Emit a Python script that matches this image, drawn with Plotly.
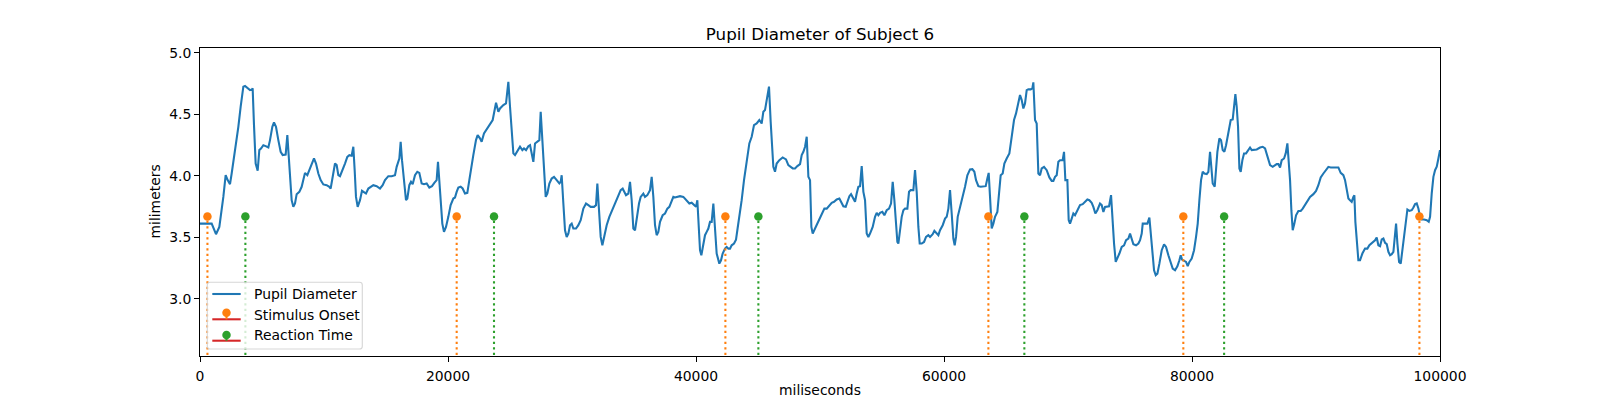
import plotly.graph_objects as go

# ---------------- data ----------------
time_ms = [
    0, 941, 1291, 1559, 1882, 2070, 2231, 2420, 2554, 2823,
    2957, 3092, 3280, 3495, 3629, 3817, 4032, 4194, 4247, 4355,
    4489, 4651, 4785, 4919, 5108, 5296, 5511, 5645, 5833, 5968,
    6129, 6317, 6505, 6667, 6909, 7043, 7150, 7258, 7392, 7527,
    7661, 7796, 8011, 8199, 8333, 8468, 8656, 8817, 8925, 9086,
    9193, 9355, 9543, 9731, 9946, 10215, 10430, 10537, 10698, 10887,
    11021, 11156, 11290, 11505, 11693, 11881, 12043, 12231, 12365, 12473,
    12580, 12715, 12903, 13064, 13225, 13387, 13575, 13763, 13978, 14247,
    14516, 14731, 14919, 15188, 15456, 15725, 15860, 16075, 16182, 16290,
    16451, 16612, 16720, 16881, 17015, 17150, 17338, 17526, 17687, 17876,
    18064, 18279, 18494, 18709, 18897, 19085, 19193, 19300, 19408, 19542,
    19677, 19838, 20026, 20214, 20429, 20564, 20698, 20832, 21020, 21182,
    21370, 21558, 21719, 21854, 22042, 22257, 22391, 22580, 22714, 22902,
    23063, 23251,
    23389, 23604, 23873, 24061, 24195, 24330, 24464, 24679, 24867, 25002,
    25136, 25271, 25405, 25593, 25808, 25996, 26131, 26292, 26480, 26615,
    26749, 26883, 27018, 27206, 27367, 27475, 27609, 27744, 27878, 28012,
    28174, 28362, 28550, 28765, 28980, 29088, 29168, 29303, 29437, 29571,
    29706, 29840, 29975, 30109, 30324, 30512, 30700, 30915, 31130, 31319,
    31507, 31776, 31937, 32044, 32179, 32313, 32448, 32609, 32797, 33012,
    33254, 33469, 33738, 33926, 34087, 34222, 34356, 34544, 34679, 34813,
    34947, 35082, 35216, 35404, 35539, 35754, 35888, 36076, 36291, 36426,
    36560, 36695, 36829, 36963, 37098, 37313, 37501, 37689, 37850, 38039,
    38173, 38307, 38496, 38711, 38979, 39248, 39463, 39651, 39840, 40001,
    40108, 40216, 40323, 40431, 40592, 40727, 40861, 40995, 41130, 41264,
    41399, 41533, 41667, 41882, 42017, 42151, 42339, 42474, 42608, 42743,
    42877, 43065, 43226, 43334, 43495, 43683, 43872, 44087, 44302, 44490,
    44678, 44893, 45108, 45296, 45431, 45565, 45699, 45887, 46022, 46129,
    46237, 46371, 46506, 46721, 46990, 47258, 47447,
    47799, 47987, 48175, 48390, 48525, 48659, 48794, 48928, 49062, 49197,
    49304, 49412, 49600, 49788, 50003, 50218, 50353, 50541, 50756, 50944,
    51132, 51347, 51562, 51697, 51885, 52073, 52207, 52369, 52503, 52691,
    52826, 52960, 53094, 53229, 53363, 53498, 53632, 53766, 53901, 54035,
    54250, 54438, 54573, 54707, 54842, 55030, 55191, 55379, 55567, 55729,
    55863, 55997, 56132, 56239, 56320, 56454, 56589, 56723, 56858, 57046,
    57180, 57315, 57530, 57664, 57798, 57933, 58040, 58202, 58390, 58551,
    58739, 58874, 59089, 59223, 59411, 59546, 59680, 59895, 60083, 60218,
    60352, 60486, 60621, 60755, 60863, 60970, 61105, 61293, 61508, 61696,
    61884, 62099, 62287, 62449, 62583, 62771, 62959, 63174, 63363, 63497,
    63604, 63712, 63846, 63981, 64115, 64303, 64465, 64572, 64733, 64868,
    65056, 65271, 65459, 65647, 65809, 65997, 66131, 66266, 66400, 66534,
    66669, 66803, 66991, 67126, 67206, 67341, 67475, 67610, 67744, 67878,
    68067, 68282, 68497, 68685, 68819, 68954, 69088, 69222, 69357, 69572,
    69679, 69787, 69948, 70056, 70163, 70298, 70432, 70566, 70755, 70970,
    71185, 71373, 71561, 71722, 71910, 72045, 72206, 72367, 72582,
    72719, 72854, 72988, 73123, 73311, 73472, 73580, 73714, 73848, 73983,
    74144, 74332, 74520, 74682, 74870, 75004, 75139, 75273, 75488, 75676,
    75811, 75945, 76026, 76214, 76402, 76563, 76671, 76805, 76940, 77074,
    77208, 77370, 77558, 77746, 77907, 78095, 78284, 78445, 78633, 78821,
    78982, 79090, 79197, 79305, 79520, 79654, 79789, 79977, 80165, 80326,
    80461, 80595, 80730, 80864, 80998, 81187, 81321, 81455, 81590, 81670,
    81832, 81939, 82047, 82208, 82342, 82477, 82611, 82746, 82880, 83014,
    83122, 83283, 83391, 83498, 83606, 83713, 83821, 83928, 84063, 84197,
    84358, 84547, 84681, 84815, 85004, 85219, 85487, 85702, 85891, 86025,
    86159, 86294, 86509, 86697, 86831, 86966, 87100, 87235, 87423, 87557,
    87692, 87799, 87907, 88014, 88122, 88256, 88390, 88579, 88767, 88928,
    89116, 89304, 89519, 89788, 90003, 90191, 90380, 90595, 90810, 90998,
    91186, 91401, 91616, 91804, 91992, 92207, 92342, 92476, 92611, 92745,
    92879, 93014, 93095, 93175, 93283, 93417, 93552, 93740, 93955, 94143,
    94304, 94492, 94627, 94761, 94895, 95030,
    95167, 95301, 95436, 95570, 95705, 95839, 95973, 96108, 96242, 96377,
    96457, 96565, 96699, 96833, 96968, 97102, 97263, 97371, 97532, 97720,
    97855, 97989, 98124, 98258, 98393, 98527, 98715, 98930, 99091, 99199,
    99333, 99468, 99602, 99737, 99871, 100000,
]

pupil_mm = [
    3.612, 3.612, 3.526, 3.585, 3.829, 4.005, 3.965, 3.932, 4.019, 4.209,
    4.290, 4.398, 4.561, 4.724, 4.729, 4.710, 4.696, 4.702, 4.710, 4.412,
    4.100, 4.041, 4.209, 4.222, 4.249, 4.241, 4.230, 4.290, 4.398, 4.434,
    4.398, 4.290, 4.195, 4.168, 4.173, 4.331, 4.182, 4.019, 3.802, 3.748,
    3.775, 3.851, 3.870, 3.911, 3.965, 4.024, 4.005, 4.046, 4.079, 4.127,
    4.141, 4.100, 4.019, 3.965, 3.930, 3.924, 3.911, 3.897, 3.992, 4.100,
    4.087, 4.005, 3.997, 4.046, 4.100, 4.154, 4.168, 4.163, 4.236, 4.046,
    3.829, 3.748, 3.802, 3.878, 3.870, 3.856, 3.897, 3.911, 3.924, 3.916,
    3.897, 3.924, 3.965, 3.997, 3.997, 4.005, 4.073, 4.141, 4.276, 4.127,
    3.965, 3.802, 3.816, 3.924, 3.951, 3.932, 4.005, 4.033, 4.024, 3.938,
    3.932, 3.938, 3.905, 3.916, 3.943, 3.965, 4.114, 3.965, 3.775, 3.612,
    3.545, 3.585, 3.667, 3.762, 3.816, 3.824, 3.870, 3.905, 3.911, 3.897,
    3.856, 3.862, 3.965, 4.060, 4.168, 4.290, 4.331, 4.304, 4.276, 4.344,
    4.371, 4.404,
    4.425, 4.453, 4.594, 4.520, 4.547, 4.561, 4.575, 4.588, 4.764, 4.561,
    4.371, 4.182, 4.168, 4.195, 4.236, 4.209, 4.222, 4.209, 4.241, 4.249,
    4.182, 4.114, 4.263, 4.276, 4.290, 4.520, 4.290, 4.019, 3.829, 3.856,
    3.938, 3.978, 3.992, 3.965, 3.938, 3.951, 4.005, 3.775, 3.558, 3.504,
    3.531, 3.599, 3.612, 3.572, 3.572, 3.599, 3.640, 3.734, 3.775, 3.762,
    3.748, 3.748, 3.762, 3.938, 3.694, 3.504, 3.436, 3.518, 3.599, 3.667,
    3.721, 3.775, 3.843, 3.884, 3.897, 3.870, 3.843, 3.856, 3.951, 3.802,
    3.572, 3.558, 3.667, 3.775, 3.829, 3.856, 3.829, 3.843, 3.884, 3.992,
    3.829, 3.599, 3.518, 3.545, 3.626, 3.680, 3.694, 3.734, 3.748, 3.789,
    3.829, 3.824, 3.829, 3.835, 3.829, 3.802, 3.775, 3.781, 3.762, 3.748,
    3.802, 3.585, 3.396, 3.355, 3.450, 3.518, 3.545, 3.572, 3.626, 3.626,
    3.775, 3.558, 3.369, 3.287, 3.314, 3.369, 3.409, 3.423, 3.409, 3.409,
    3.436, 3.450, 3.482, 3.558, 3.667, 3.802, 3.965, 4.127, 4.263, 4.317,
    4.412, 4.425, 4.453, 4.425, 4.520, 4.534, 4.629, 4.724, 4.439, 4.290,
    4.073, 4.033, 4.100, 4.127, 4.149, 4.133, 4.087,
    4.060, 4.060, 4.079, 4.095, 4.168, 4.195, 4.236, 4.317, 3.992, 3.965,
    3.585, 3.531, 3.572, 3.612, 3.653, 3.694, 3.734, 3.734, 3.762, 3.781,
    3.789, 3.808, 3.816, 3.789, 3.753, 3.748, 3.781, 3.835, 3.851, 3.816,
    3.789, 3.856, 3.911, 3.916, 4.079, 3.870, 3.802, 3.531, 3.504, 3.531,
    3.585, 3.667, 3.699, 3.680, 3.699, 3.707, 3.680, 3.721, 3.734, 3.775,
    3.951, 3.802, 3.585, 3.463, 3.450, 3.558, 3.667, 3.721, 3.734, 3.734,
    3.870, 3.884, 3.884, 4.046, 3.870, 3.585, 3.450, 3.450, 3.463, 3.504,
    3.518, 3.504, 3.526, 3.553, 3.531, 3.518, 3.558, 3.599, 3.653, 3.667,
    3.734, 3.884, 3.694, 3.491, 3.436, 3.504, 3.667, 3.748, 3.816, 3.911,
    4.005, 4.052, 4.054, 4.033, 3.965, 3.916, 3.911, 3.916, 3.916, 3.978,
    4.024, 3.829, 3.572, 3.612, 3.667, 3.707, 3.911, 4.005, 4.019, 4.100,
    4.141, 4.182, 4.317, 4.453, 4.507, 4.588, 4.656, 4.615, 4.547, 4.588,
    4.696, 4.702, 4.702, 4.710, 4.759, 4.453, 4.425, 4.019, 4.005, 4.060,
    4.073, 4.046, 3.987, 3.959, 3.959, 3.992, 4.005, 4.114, 4.127, 4.127,
    4.195, 3.965, 3.965, 3.640, 3.612, 3.653, 3.694, 3.680, 3.721, 3.762,
    3.770, 3.789, 3.808, 3.802, 3.781, 3.748, 3.694, 3.721, 3.775,
    3.762, 3.707, 3.748, 3.748, 3.753, 3.843, 3.640, 3.450, 3.301, 3.328,
    3.369, 3.423, 3.436, 3.477, 3.491, 3.531, 3.482, 3.444, 3.436, 3.450,
    3.477, 3.531, 3.612, 3.612, 3.612, 3.661, 3.531, 3.342, 3.233, 3.193,
    3.206, 3.287, 3.396, 3.444, 3.423, 3.355, 3.293, 3.247, 3.233, 3.266,
    3.314, 3.355, 3.320, 3.314, 3.301, 3.266, 3.301, 3.328, 3.396, 3.504,
    3.612, 3.802, 3.965, 4.033, 4.019, 4.014, 4.033, 4.195, 4.019, 3.938,
    3.911, 4.046, 4.195, 4.304, 4.290, 4.209, 4.195, 4.249, 4.317, 4.412,
    4.453, 4.458, 4.561, 4.664, 4.561, 4.398, 4.060, 4.033, 4.127, 4.182,
    4.182, 4.209, 4.230, 4.209, 4.209, 4.214, 4.230, 4.236, 4.222, 4.182,
    4.127, 4.087, 4.073, 4.087, 4.095, 4.095, 4.068, 4.127, 4.141, 4.182,
    4.263, 4.114, 3.965, 3.721, 3.558, 3.612, 3.680, 3.715, 3.715, 3.734,
    3.762, 3.789, 3.829, 3.851, 3.878, 3.924, 3.987, 4.019, 4.046, 4.073,
    4.068, 4.068, 4.073, 4.068, 4.024, 4.005, 3.965, 3.897, 3.816, 3.802,
    3.789, 3.829, 3.843, 3.626, 3.477, 3.314, 3.314, 3.369, 3.409, 3.409,
    3.436, 3.450, 3.463, 3.477, 3.499, 3.436,
    3.429, 3.483, 3.491, 3.456, 3.445, 3.383, 3.355, 3.364, 3.383, 3.532,
    3.613, 3.450, 3.301, 3.288, 3.396, 3.545, 3.667, 3.727, 3.716, 3.721,
    3.743, 3.770, 3.776, 3.735, 3.667, 3.645, 3.645, 3.640, 3.627, 3.667,
    3.857, 3.992, 4.046, 4.074, 4.141, 4.209,
]

stimulus_onset_ms = [600, 20700, 42370, 63580, 79300, 98340]
reaction_time_ms = [3660, 23710, 45030, 66480, 82590]
event_level_mm = 3.67
stem_baseline_mm = 0.0

x_ticks = [0, 20000, 40000, 60000, 80000, 100000]
x_tick_labels = ["0", "20000", "40000", "60000", "80000", "100000"]
y_ticks = [3.0, 3.5, 4.0, 4.5, 5.0]
y_tick_labels = ["3.0", "3.5", "4.0", "4.5", "5.0"]

title_text = "Pupil Diameter of Subject 6"
x_label = "miliseconds"
y_label = "milimeters"
legend_labels = ["Pupil Diameter", "Stimulus Onset", "Reaction Time"]

# ---------------- style ----------------
C0, C1, C2, C3 = "#1f77b4", "#ff7f0e", "#2ca02c", "#d62728"
FONT = "DejaVu Sans"
W, H = 1600, 400
L, R, T, B = 200, 1440, 48, 356  # plot-area edges in pixels
LW = 2.08
SPINE = 1.11
FS = 13.9


def px(x):
    return (x - L) / (R - L)


def py(y):
    return (B - y) / (B - T)


def stem_xy(times):
    xs, ys = [], []
    for t in times:
        xs += [t, t, None]
        ys += [stem_baseline_mm, event_level_mm, None]
    return xs, ys


fig = go.Figure()
fig.add_trace(go.Scatter(x=time_ms, y=pupil_mm, mode="lines",
                         line=dict(color=C0, width=LW), name=legend_labels[0],
                         showlegend=False))

for times, col, name in [(stimulus_onset_ms, C1, legend_labels[1]),
                         (reaction_time_ms, C2, legend_labels[2])]:
    sx, sy = stem_xy(times)
    fig.add_trace(go.Scatter(x=sx, y=sy, mode="lines",
                             line=dict(color=col, width=LW, dash="2.1px,3.4px"),
                             showlegend=False, hoverinfo="skip"))
    fig.add_trace(go.Scatter(x=times, y=[event_level_mm] * len(times), mode="markers",
                             marker=dict(color=col, size=8.5, line=dict(width=0)),
                             name=name, showlegend=False))

# ---------------- manual matplotlib-like legend ----------------
shapes = []
bx0, bx1, by0, by1, rr = 207.3, 362.3, 282.3, 349.0, 2.8
path = (f"M {px(bx0+rr)},{py(by0)} L {px(bx1-rr)},{py(by0)} "
        f"Q {px(bx1)},{py(by0)} {px(bx1)},{py(by0+rr)} "
        f"L {px(bx1)},{py(by1-rr)} Q {px(bx1)},{py(by1)} {px(bx1-rr)},{py(by1)} "
        f"L {px(bx0+rr)},{py(by1)} Q {px(bx0)},{py(by1)} {px(bx0)},{py(by1-rr)} "
        f"L {px(bx0)},{py(by0+rr)} Q {px(bx0)},{py(by0)} {px(bx0+rr)},{py(by0)} Z")
shapes.append(dict(type="path", path=path, xref="paper", yref="paper", layer="above",
                   fillcolor="rgba(255,255,255,0.8)",
                   line=dict(color="rgba(204,204,204,0.8)", width=SPINE)))
hx0, hx1, hxc = 212.3, 240.7, 226.5
shapes.append(dict(type="line", xref="paper", yref="paper", layer="above",
                   x0=px(hx0), x1=px(hx1), y0=py(294.0), y1=py(294.0),
                   line=dict(color=C0, width=LW)))
rmk = 4.25
for mc, my, ly in [(C1, 312.7, 319.3), (C2, 335.0, 340.7)]:
    shapes.append(dict(type="line", xref="paper", yref="paper", layer="above",
                       x0=px(hx0), x1=px(hx1), y0=py(ly), y1=py(ly),
                       line=dict(color=C3, width=LW)))
    shapes.append(dict(type="line", xref="paper", yref="paper", layer="above",
                       x0=px(hxc), x1=px(hxc), y0=py(my), y1=py(ly),
                       line=dict(color=mc, width=LW)))
    shapes.append(dict(type="circle", xref="paper", yref="paper", layer="above",
                       x0=px(hxc - rmk), x1=px(hxc + rmk), y0=py(my + rmk), y1=py(my - rmk),
                       fillcolor=mc, line=dict(width=0)))

annotations = []
for lab, ty in zip(legend_labels, [293.6, 314.6, 335.0]):
    annotations.append(dict(text=lab, xref="paper", yref="paper", x=px(251.7), y=py(ty),
                            xanchor="left", yanchor="middle", showarrow=False,
                            font=dict(family=FONT, size=FS, color="black")))

# axis titles placed like matplotlib's labels
annotations.append(dict(text=x_label, xref="paper", yref="paper", x=0.5, y=py(390.5),
                        xanchor="center", yanchor="middle", showarrow=False,
                        font=dict(family=FONT, size=FS, color="black")))
annotations.append(dict(text=y_label, xref="paper", yref="paper", x=px(154.5),
                        y=py((T + B) / 2), textangle=-90,
                        xanchor="center", yanchor="middle", showarrow=False,
                        font=dict(family=FONT, size=FS, color="black")))

axis_common = dict(showline=True, mirror=True, linecolor="black", linewidth=SPINE,
                   ticks="outside", ticklen=4.9, tickwidth=SPINE, tickcolor="black",
                   showgrid=False, zeroline=False, automargin=False,
                   tickfont=dict(family=FONT, size=FS, color="black"))

fig.update_layout(
    width=W, height=H, autosize=False,
    margin=dict(l=L, r=W - R, t=T, b=H - B, pad=0),
    paper_bgcolor="white", plot_bgcolor="white",
    showlegend=False,
    title=dict(text=title_text, x=0.5, xref="paper", xanchor="center",
               y=1 - 34.2 / H, yref="container", yanchor="middle",
               font=dict(family=FONT, size=16.7, color="black")),
    xaxis=dict(range=[0, 100000], tickvals=x_ticks, ticktext=x_tick_labels,
               ticklabelstandoff=2, **axis_common),
    yaxis=dict(range=[2.537, 5.038], tickvals=y_ticks, ticktext=y_tick_labels,
               ticklabelstandoff=0, **axis_common),
    shapes=shapes,
    annotations=annotations,
)

# remove the browser's default 8px body margin so the figure fills the window exactly
fig.write_html(
    "out.html",
    config={"displayModeBar": False},
    post_script="document.body.style.margin='0';document.body.style.padding='0';"
                "document.body.style.overflow='hidden';",
)
